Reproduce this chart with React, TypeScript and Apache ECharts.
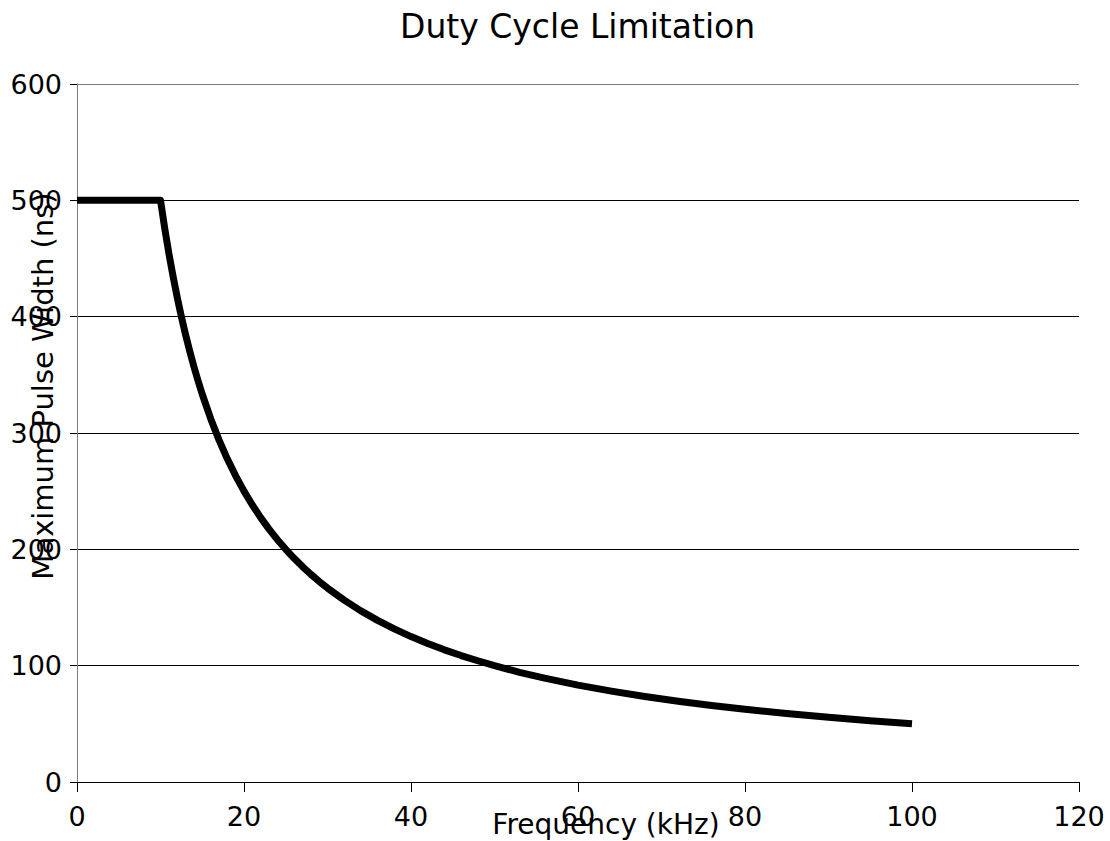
import React, { useEffect, useRef } from "react";
import * as echarts from "echarts";

const titleText = "Duty Cycle Limitation";
const xAxisName = "Frequency (kHz)";
const yAxisName = "Maximum Pulse Width (ns)";

const frequencyKHz = [
  0, 10, 10.5, 11, 11.5, 12, 12.5, 13, 13.5, 14, 14.5, 15, 16, 17, 18, 19, 20, 21, 22, 23, 24, 25, 26, 27, 28, 29, 30,
  32, 34, 36, 38, 40, 42, 44, 46, 48, 50, 53, 56, 60, 64, 68, 72, 76, 80, 85, 90, 95, 100,
];
const pulseWidthNs = [
  500, 500, 476.2, 454.5, 434.8, 416.7, 400, 384.6, 370.4, 357.1, 344.8, 333.3, 312.5, 294.1, 277.8, 263.2, 250, 238.1, 227.3,
  217.4, 208.3, 200, 192.3, 185.2, 178.6, 172.4, 166.7, 156.3, 147.1, 138.9, 131.6, 125, 119, 113.6, 108.7, 104.2, 100, 94.3,
  89.3, 83.3, 78.1, 73.5, 69.4, 65.8, 62.5, 58.8, 55.6, 52.6, 50,
];

const FONT = "DejaVu Sans";

export default function App() {
  const ref = useRef<HTMLDivElement>(null);

  useEffect(() => {
    if (!ref.current) return;
    const chart = echarts.init(ref.current, undefined, { renderer: "svg" });
    const data = frequencyKHz.map((x, i) => [x, pulseWidthNs[i]]);
    chart.setOption({
      animation: false,
      backgroundColor: "#ffffff",
      title: {
        text: titleText,
        left: 395,
        top: 5,
        textStyle: { fontFamily: FONT, fontSize: 33, fontWeight: "normal", color: "#000" },
      },
      grid: { left: 77, right: 31, top: 84, bottom: 59 },
      xAxis: {
        type: "value",
        min: 0,
        max: 120,
        interval: 20,
        axisLine: { show: true, lineStyle: { color: "#000", width: 1 } },
        axisTick: { show: true, inside: false, length: 10, lineStyle: { color: "#000" } },
        axisLabel: { fontFamily: FONT, fontSize: 27, color: "#000", margin: 21 },
        splitLine: { show: false },
      },
      yAxis: {
        type: "value",
        min: 0,
        max: 600,
        interval: 100,
        axisLine: { show: true, lineStyle: { color: "#808080", width: 1 } },
        axisTick: { show: true, inside: false, length: 7, lineStyle: { color: "#000" } },
        axisLabel: { fontFamily: FONT, fontSize: 27, color: "#000", margin: 15 },
        splitLine: {
          show: true,
          lineStyle: {
            color: ["#000", "#000", "#000", "#000", "#000", "#000", "#808080"],
            width: 1,
          },
        },
      },
      graphic: [
        {
          type: "text",
          x: 606,
          y: 824,
          style: {
            text: xAxisName,
            fontFamily: FONT,
            fontSize: 28,
            fill: "#000",
            align: "center",
            verticalAlign: "middle",
          },
        },
        {
          type: "text",
          x: 43,
          y: 386,
          rotation: Math.PI / 2,
          style: {
            text: yAxisName,
            fontFamily: FONT,
            fontSize: 29,
            fill: "#000",
            align: "center",
            verticalAlign: "middle",
          },
        },
      ],
      series: [
        {
          type: "line",
          data,
          showSymbol: false,
          symbol: "none",
          smooth: false,
          lineStyle: { color: "#000", width: 7, join: "round", cap: "butt" },
          silent: true,
        },
      ],
    });
    return () => chart.dispose();
  }, []);

  return (
    <div
      ref={ref}
      style={{ position: "absolute", left: 0, top: 0, width: 1110, height: 841 }}
    />
  );
}
